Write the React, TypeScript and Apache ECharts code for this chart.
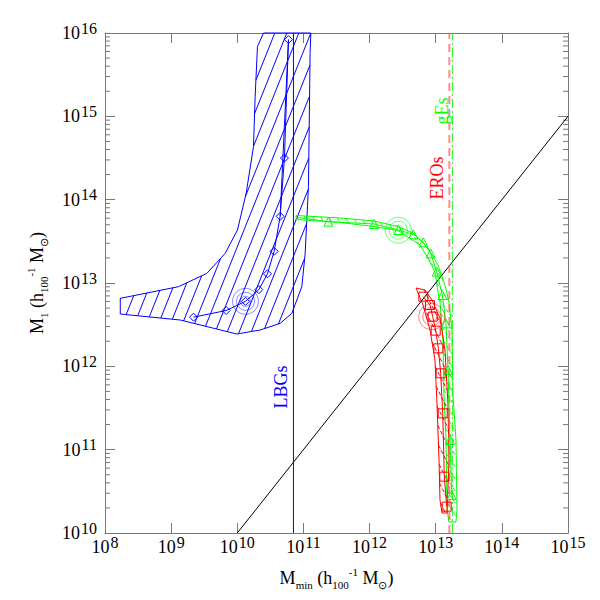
import React, { useEffect, useRef } from 'react';
import * as echarts from 'echarts';

// ---- axis ranges (log10 of masses) ----
const xMinExp = 8;
const xMaxExp = 15;
const yMinExp = 10;
const yMaxExp = 16;
const yMinorMultipliers = [2, 3, 4, 5, 6, 7, 8, 9];

// ---- LBGs (log10 Mmin, log10 M1) ----
const lbgLogMmin = [9.338, 9.832, 10.124, 10.326, 10.456, 10.557, 10.648, 10.713, 10.774];
const lbgLogM1 = [12.59, 12.67, 12.78, 12.92, 13.11, 13.38, 13.80, 14.50, 15.92];
const lbgRegionLogMmin = [10.396, 10.305, 10.270, 10.245, 10.134, 10.003, 9.817, 9.541, 9.112, 8.231, 8.231, 9.137, 9.994, 10.346, 10.648, 10.825, 10.976, 11.026, 11.076, 11.101, 11.112];
const lbgRegionLogM1 = [16.0, 15.836, 15.236, 14.636, 14.076, 13.636, 13.356, 13.116, 12.956, 12.816, 12.628, 12.556, 12.388, 12.436, 12.516, 12.636, 12.956, 13.356, 14.156, 15.756, 16.0];
const lbgLimitLogMmin = 10.849;

// ---- gEs ----
const gesLogMmin = [10.890, 11.378, 12.068, 12.435, 12.662, 12.813, 12.924, 13.015, 13.100, 13.155, 13.186, 13.216, 13.242];
const gesLogM1 = [13.788, 13.736, 13.708, 13.636, 13.584, 13.488, 13.356, 13.136, 12.856, 12.516, 11.956, 11.116, 10.456];
const gesBandLogMmin = [10.890, 11.554, 12.068, 12.431, 12.657, 12.884, 13.035, 13.140, 13.201, 13.246, 13.261, 13.306, 13.322, 13.306, 13.201, 13.171, 13.156, 13.125, 13.110, 13.065, 13.035, 12.989, 12.884, 12.763, 12.431, 12.068, 11.554, 10.890];
const gesBandLogM1 = [13.810, 13.780, 13.744, 13.678, 13.600, 13.420, 13.216, 12.976, 12.772, 12.436, 11.656, 11.116, 10.276, 10.132, 10.132, 10.276, 11.116, 11.656, 12.316, 12.772, 12.892, 13.132, 13.300, 13.456, 13.630, 13.678, 13.726, 13.762];
const gesLimitLogMmin = 13.251;

// ---- EROs ----
const erosLogMmin = [12.813, 12.914, 12.955, 13.0, 13.04, 13.075, 13.106, 13.13, 13.166];
const erosLogM1 = [12.836, 12.736, 12.596, 12.428, 12.216, 11.916, 11.436, 10.676, 10.316];
const erosBandLogMmin = [12.703, 12.808, 12.914, 12.989, 13.020, 13.050, 13.065, 13.095, 13.171, 13.201, 13.186, 13.140, 13.065, 12.944, 12.838];
const erosBandLogM1 = [12.940, 12.736, 12.436, 12.076, 11.536, 10.876, 10.396, 10.240, 10.240, 10.876, 11.536, 12.196, 12.580, 12.796, 12.916];
const erosLimitLogMmin = 13.206;

// ---- best-fit rings ----
const ringLogMmin = [10.124, 12.435, 12.94];
const ringLogM1 = [12.78, 13.634, 12.596];
const ringColors = ['rgba(0,0,255,0.45)', 'rgba(0,255,0,0.55)', 'rgba(255,0,0,0.5)'];
const ringDiameters = [26, 18, 10];

// ---- annotations ----
const labelTexts = ['LBGs', 'EROs', 'gEs'];
const labelLogMmin = [10.663, 13.015, 13.088];
const labelLogM1 = [11.752, 14.26, 15.064];
const labelColors = ['#0000ff', '#ff0000', '#00ff00'];

const P = (e: number) => Math.pow(10, e);
const FONT = 'Liberation Serif';
const AXIS_GRAY = '#777';

function hatchRender(xs: number[], ys: number[], color: string, spacing: number, slope: number, lineDash?: number[]) {
  return (params: any, api: any) => {
    if (params.dataIndex !== 0) return null;
    const pts: number[][] = xs.map((x, i) => api.coord([P(x), P(ys[i])]));
    const n = pts.length;
    const children: any[] = [
      { type: 'polygon', shape: { points: pts }, style: { fill: 'none', stroke: color, lineWidth: 1 }, silent: true },
    ];
    const cs = pts.map((p) => p[0] + p[1] / slope);
    const cmin = Math.min(...cs);
    const cmax = Math.max(...cs);
    for (let c = Math.ceil(cmin / spacing) * spacing; c <= cmax; c += spacing) {
      const hits: number[][] = [];
      for (let i = 0; i < n; i++) {
        const j = (i + 1) % n;
        const fP = cs[i] - c;
        const fQ = cs[j] - c;
        if ((fP < 0) !== (fQ < 0)) {
          const t = fP / (fP - fQ);
          hits.push([pts[i][0] + t * (pts[j][0] - pts[i][0]), pts[i][1] + t * (pts[j][1] - pts[i][1])]);
        }
      }
      hits.sort((a, b) => a[1] - b[1]);
      for (let k = 0; k + 1 < hits.length; k += 2) {
        children.push({
          type: 'line',
          silent: true,
          shape: { x1: hits[k][0], y1: hits[k][1], x2: hits[k + 1][0], y2: hits[k + 1][1] },
          style: { stroke: color, lineWidth: 1, lineDash: lineDash || null },
        });
      }
    }
    return { type: 'group', children };
  };
}

const tickLabelRich = {
  b: { fontFamily: FONT, fontSize: 18, color: '#000', lineHeight: 26, verticalAlign: 'middle' },
  s: { fontFamily: FONT, fontSize: 16, color: '#000', lineHeight: 16, verticalAlign: 'top', padding: [0, 0, 0, 1] },
};
const nameRich = {
  m: { fontFamily: FONT, fontSize: 18, color: '#000', lineHeight: 24, verticalAlign: 'middle' },
  sub: { fontFamily: FONT, fontSize: 11, color: '#000', lineHeight: 11, verticalAlign: 'bottom' },
  sup: { fontFamily: FONT, fontSize: 11, color: '#000', lineHeight: 11, verticalAlign: 'top' },
};
const expLabel = (v: number) => `{b|10}{s|${Math.round(Math.log10(v))}}`;

function vline(name: string, logx: number, color: string, width: number, type: any) {
  return {
    name,
    type: 'line',
    data: [[P(logx), P(yMinExp)], [P(logx), P(yMaxExp)]],
    symbol: 'none',
    lineStyle: { color, width, type },
    z: 3,
  };
}

export default function App() {
  const ref = useRef<HTMLDivElement>(null);
  useEffect(() => {
    if (!ref.current) return;
    const chart = echarts.init(ref.current, undefined, { renderer: 'svg' });
    const baseX = {
      type: 'log', logBase: 10, min: P(xMinExp), max: P(xMaxExp), splitNumber: 7,
      axisLine: { show: true, lineStyle: { color: AXIS_GRAY } },
      axisTick: { show: true, inside: true, length: 10, lineStyle: { color: AXIS_GRAY } },
      splitLine: { show: false },
    };
    const baseY = {
      type: 'log', logBase: 10, min: P(yMinExp), max: P(yMaxExp), splitNumber: 6,
      axisLine: { show: true, lineStyle: { color: AXIS_GRAY } },
      axisTick: { show: true, inside: true, length: 10, lineStyle: { color: AXIS_GRAY } },
      splitLine: { show: false },
    };
    const option: any = {
      animation: false,
      backgroundColor: '#fff',
      grid: { left: 105, right: 32, top: 33, bottom: 67 },
      xAxis: [
        {
          ...baseX, position: 'bottom',
          axisLabel: { formatter: expLabel, rich: tickLabelRich, margin: 1 },
          name: '{m|M}{sub|min}{m| (h}{sub|100}{sup|-1}{m| M}{sub|⊙}{m|)}',
          nameLocation: 'middle', nameGap: 33,
          nameTextStyle: { rich: nameRich },
        },
        { ...baseX, position: 'top', axisLabel: { show: false } },
      ],
      yAxis: [
        {
          ...baseY, position: 'left',
          axisLabel: { formatter: expLabel, rich: tickLabelRich, margin: 8 },
          name: '{m|M}{sub|1}{m| (h}{sub|100}{sup|-1}{m| M}{sub|⊙}{m|)}',
          nameLocation: 'middle', nameGap: 56, nameRotate: 90,
          nameTextStyle: { rich: nameRich },
        },
        { ...baseY, position: 'right', axisLabel: { show: false } },
      ],
      series: [
        {
          name: 'minorTicks', type: 'custom', data: [[P(xMinExp), P(yMinExp)]], z: 1, silent: true,
          renderItem: (params: any, api: any) => {
            const children: any[] = [];
            for (let d = yMinExp; d < yMaxExp; d++) {
              for (const m of yMinorMultipliers) {
                const l = api.coord([P(xMinExp), m * P(d)]);
                const r = api.coord([P(xMaxExp), m * P(d)]);
                children.push({ type: 'line', shape: { x1: l[0], y1: l[1], x2: l[0] + 5, y2: l[1] }, style: { stroke: AXIS_GRAY, lineWidth: 1 } });
                children.push({ type: 'line', shape: { x1: r[0], y1: r[1], x2: r[0] - 5, y2: r[1] }, style: { stroke: AXIS_GRAY, lineWidth: 1 } });
              }
            }
            return { type: 'group', children };
          },
        },
        {
          name: 'LBG region', type: 'custom', silent: true, z: 2,
          data: lbgRegionLogMmin.map((x, i) => [P(x), P(lbgRegionLogM1[i])]),
          renderItem: hatchRender(lbgRegionLogMmin, lbgRegionLogM1, '#0000ff', 12, 2.5),
        },
        {
          name: 'gEs region', type: 'custom', silent: true, z: 2,
          data: gesBandLogMmin.map((x, i) => [P(x), P(gesBandLogM1[i])]),
          renderItem: hatchRender(gesBandLogMmin, gesBandLogM1, '#00ff00', 8, -1.5, [4, 2]),
        },
        {
          name: 'EROs region', type: 'custom', silent: true, z: 2,
          data: erosBandLogMmin.map((x, i) => [P(x), P(erosBandLogM1[i])]),
          renderItem: hatchRender(erosBandLogMmin, erosBandLogM1, '#ff0000', 9, -2, [4, 2]),
        },
        {
          name: 'M1 = Mmin', type: 'line', symbol: 'none', z: 3,
          data: [[P(yMinExp), P(yMinExp)], [P(xMaxExp), P(xMaxExp)]],
          lineStyle: { color: '#000', width: 1 },
        },
        vline('LBG limit', lbgLimitLogMmin, '#0000ff', 1, 'solid'),
        vline('EROs limit', erosLimitLogMmin, 'rgba(255,80,80,0.65)', 2, [8, 5]),
        vline('gEs limit', gesLimitLogMmin, '#00ff00', 1, [9, 3, 2, 3]),
        {
          name: 'LBGs', type: 'line', z: 4,
          data: lbgLogMmin.map((x, i) => [P(x), P(lbgLogM1[i])]),
          symbol: 'diamond', symbolSize: 8,
          itemStyle: { color: 'rgba(255,255,255,0)', borderColor: '#0000ff', borderWidth: 1 },
          lineStyle: { color: '#0000ff', width: 1 },
        },
        {
          name: 'LBGs upper', type: 'line', z: 4, symbol: 'none',
          data: [[P(lbgLogMmin[8]), P(lbgLogM1[8])], [P(lbgLogMmin[6]), P(lbgLogM1[6])]],
          lineStyle: { color: '#0000ff', width: 1 },
        },
        {
          name: 'gEs', type: 'line', z: 4,
          data: gesLogMmin.map((x, i) => (i === 0 ? { value: [P(x), P(gesLogM1[i])], symbol: 'none' } : [P(x), P(gesLogM1[i])])),
          symbol: 'triangle', symbolSize: 9,
          itemStyle: { color: 'rgba(255,255,255,0)', borderColor: '#00ff00', borderWidth: 1 },
          lineStyle: { color: '#00ff00', width: 1 },
        },
        {
          name: 'EROs', type: 'line', z: 4,
          data: erosLogMmin.map((x, i) => [P(x), P(erosLogM1[i])]),
          symbol: 'rect', symbolSize: 9,
          itemStyle: { color: 'rgba(255,255,255,0)', borderColor: '#ff0000', borderWidth: 1 },
          lineStyle: { color: '#ff0000', width: 1 },
        },
        {
          name: 'best fits', type: 'custom', silent: true, z: 5,
          data: ringLogMmin.map((x, i) => [P(x), P(ringLogM1[i])]),
          renderItem: (params: any, api: any) => {
            const i = params.dataIndex;
            const c = api.coord([api.value(0), api.value(1)]);
            return {
              type: 'group',
              children: ringDiameters.map((d) => ({
                type: 'circle', shape: { cx: c[0], cy: c[1], r: d / 2 },
                style: { fill: 'none', stroke: ringColors[i], lineWidth: 1 },
              })),
            };
          },
        },
        {
          name: 'labels', type: 'custom', silent: true, z: 6,
          data: labelLogMmin.map((x, i) => [P(x), P(labelLogM1[i])]),
          renderItem: (params: any, api: any) => {
            const i = params.dataIndex;
            const c = api.coord([api.value(0), api.value(1)]);
            return {
              type: 'text', x: c[0], y: c[1], rotation: Math.PI / 2,
              style: { text: labelTexts[i], fill: labelColors[i], font: `18px "${FONT}"`, align: 'center', verticalAlign: 'middle' },
            };
          },
        },
      ],
    };
    chart.setOption(option);
    return () => chart.dispose();
  }, []);
  return <div ref={ref} style={{ position: 'absolute', left: 0, top: 0, width: 600, height: 600 }} />;
}
